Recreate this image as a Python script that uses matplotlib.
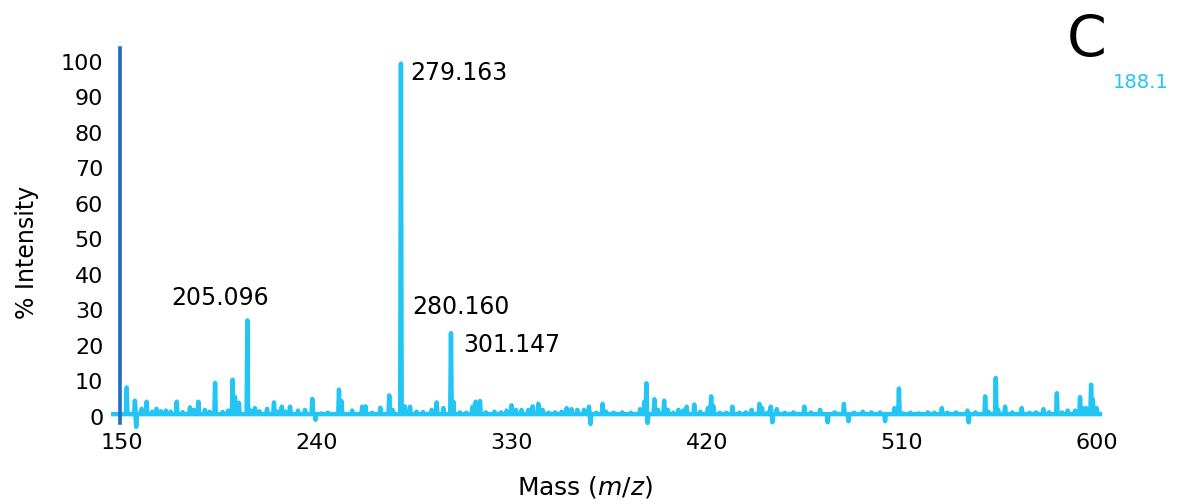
import matplotlib
matplotlib.use('Agg')
import matplotlib.pyplot as plt

# peak list (m/z, % intensity)
peak_mz = [152.2, 156.0, 156.6, 159.1, 161.4, 164.0, 166.0, 168.0, 170.3, 172.5,
           175.3, 178.0, 181.4, 183.2, 185.3, 188.3, 190.5, 193.0, 196.5, 199.0,
           201.1, 202.2, 204.0, 207.9, 209.5, 211.4, 213.5, 217.0, 220.2, 222.0,
           223.8, 225.5, 227.6, 231.3, 234.5, 237.9, 239.4, 242.0, 245.0, 250.2,
           251.4, 256.3, 260.9, 262.5, 265.5, 269.3, 273.4, 275.0, 278.8, 280.6,
           283.0, 286.0, 289.0, 293.0, 295.3, 298.4, 301.9, 303.0, 306.0, 309.0,
           311.9, 313.3, 315.3, 318.0, 322.0, 325.0, 327.6, 329.9, 331.9, 334.5,
           337.6, 339.6, 342.2, 344.2, 347.0, 350.0, 353.0, 355.3, 357.5, 360.2,
           363.3, 365.6, 366.3, 369.0, 371.9, 373.5, 377.0, 381.0, 385.0, 389.2,
           391.2, 392.1, 392.7, 395.8, 397.5, 400.3, 402.0, 404.5, 406.9, 409.0,
           410.7, 414.2, 417.0, 420.5, 422.0, 423.0, 426.0, 429.0, 431.8, 435.0,
           438.0, 440.7, 444.3, 445.5, 448.0, 449.5, 450.3, 452.3, 456.0, 460.0,
           465.0, 468.0, 472.3, 475.8, 479.0, 483.3, 485.4, 488.0, 492.0, 496.0,
           500.0, 502.3, 506.6, 508.7, 510.5, 514.0, 518.0, 522.0, 525.0, 528.5,
           531.0, 535.0, 540.3, 540.9, 544.0, 548.5, 550.0, 553.4, 554.5, 557.7,
           561.0, 565.4, 569.0, 572.0, 575.4, 578.0, 581.6, 584.0, 586.6, 590.0,
           592.3, 593.5, 595.1, 597.4, 598.2, 600.0]
peak_int = [8.3, 4.6, -2.8, 2.3, 4.3, 1.5, 2.3, 1.6, 1.8, 1.5,
            4.3, 1.4, 2.7, 2.0, 4.3, 2.0, 1.5, 9.6, 1.4, 1.8,
            10.5, 5.6, 4.0, 27.2, 1.8, 2.5, 1.6, 2.3, 4.1, 1.5,
            2.9, 1.5, 2.9, 1.8, 2.0, 5.1, -0.8, 1.0, 1.2, 7.7,
            4.5, 1.8, 2.9, 3.0, 1.2, 2.6, 6.1, 2.0, 99.5, 3.0,
            2.9, 1.5, 1.4, 2.0, 4.1, 2.5, 23.6, 4.3, 1.3, 1.2,
            2.9, 4.3, 4.5, 1.3, 1.5, 1.3, 1.8, 3.3, 2.0, 2.0,
            2.0, 3.0, 3.7, 2.0, 1.2, 1.3, 1.5, 2.5, 2.2, 2.0,
            2.0, 2.9, -2.0, 1.2, 3.7, 1.5, 1.2, 1.3, 1.2, 2.2,
            4.3, 9.5, -1.7, 5.0, 2.0, 4.6, 2.0, 1.2, 2.0, 1.8,
            2.9, 3.5, 1.5, 2.5, 5.8, 3.1, 1.2, 1.2, 2.9, 1.2,
            1.3, 2.0, 3.7, 2.5, 1.2, 2.9, -1.5, 2.2, 1.2, 1.3,
            2.9, 1.3, 2.0, -1.5, 1.3, 3.7, -1.2, 1.2, 1.5, 1.3,
            1.3, -1.2, 2.5, 8.0, 1.0, 1.2, 1.0, 1.3, 1.2, 2.5,
            1.2, 1.3, 1.8, -1.5, 1.3, 5.8, 1.5, 11.0, 2.0, 2.9,
            1.3, 2.5, 1.2, 1.3, 2.2, 1.3, 6.7, 1.3, 1.8, 1.8,
            5.6, 2.5, 2.5, 9.1, 5.0, 2.5]

scan_start, scan_end = 146.0, 601.5
x_ticks = [150, 240, 330, 420, 510, 600]
y_ticks = [0, 10, 20, 30, 40, 50, 60, 70, 80, 90, 100]

# labelled peaks: text, anchor m/z, anchor intensity
peak_labels = [('279.163', 283.0, 96.8),
               ('280.160', 283.9, 31.0),
               ('301.147', 307.4, 20.3),
               ('205.096', 173.0, 33.4)]

SPEC_COLOR = '#22c5f3'
AXIS_COLOR = '#1b6ec2'
BASE = 0.8
HALF_WIDTH = 0.35

# turn the stick list into a profile trace
xs, ys = [scan_start], [BASE]
for mz, inten in zip(peak_mz, peak_int):
    xs += [mz - HALF_WIDTH, mz, mz + HALF_WIDTH]
    ys += [BASE, inten, BASE]
xs.append(scan_end)
ys.append(BASE)

plt.rcParams['font.family'] = ['DejaVu Sans']
fig = plt.figure(figsize=(11.82, 5.04), dpi=100)
ax = fig.add_axes([0.1015, 0.1607, 0.8291, 0.7441])

ax.plot(xs, ys, color=SPEC_COLOR, lw=3.2, solid_joinstyle='round', clip_on=False)

ax.set_xlim(149.1, 601.5)
ax.set_ylim(-1.7, 103.9)
for side in ['top', 'right', 'bottom']:
    ax.spines[side].set_visible(False)
ax.spines['left'].set_color(AXIS_COLOR)
ax.spines['left'].set_linewidth(2.6)
ax.spines['left'].set_zorder(3)

ax.set_xticks(x_ticks)
ax.set_yticks(y_ticks)
ax.tick_params(axis='x', length=0, labelsize=16, pad=7)
ax.tick_params(axis='y', length=0, labelsize=16, pad=12)

for txt, mz, inten in peak_labels:
    ax.text(mz, inten, txt, fontsize=17, ha='left', va='center')

fig.text(0.023, 0.5, '% Intensity', rotation=90, fontsize=17, ha='center', va='center')
fig.text(0.495, 0.034, r'Mass $\mathit{(m/z)}$', fontsize=18, ha='center', va='center')
fig.text(0.919, 0.887, 'C', fontsize=41, ha='center', va='baseline')
fig.text(0.9416, 0.8254, '188.1', fontsize=14, color=SPEC_COLOR, ha='left', va='baseline')

fig.savefig('out.png', dpi=100)
